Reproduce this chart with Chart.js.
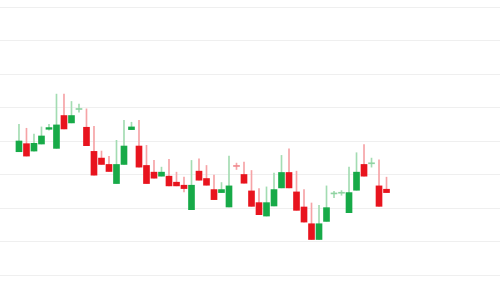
<!DOCTYPE html>
<html>
<head>
<meta charset="utf-8">
<script src="https://cdn.jsdelivr.net/npm/chart.js@4.4.1/dist/chart.umd.min.js"></script>
<style>
  html, body { margin: 0; padding: 0; background: #fff; }
  #wrap { width: 500px; height: 282px; }
</style>
</head>
<body>
<div id="wrap"><canvas id="candles" width="500" height="282"></canvas></div>
<script>
// OHLC values, one entry per session
const sessions = Array.from({ length: 50 }, (_, i) => i + 1);
const opens = [
  136.8, 139.2, 137.0, 139.1, 143.5, 137.8, 147.6, 145.4, 149.4, 144.1,
  136.9, 134.9, 133.0, 127.3, 133.0, 143.4, 138.5, 132.7, 130.7, 129.5,
  129.5, 127.7, 126.8, 119.5, 131.0, 128.8, 125.5, 124.6, 120.3, 132.7,
  130.0, 125.1, 121.6, 117.6, 120.6, 126.0, 130.6, 124.8, 120.3, 115.3,
  110.6, 116.0, 124.2, 124.4, 118.6, 125.3, 133.0, 133.2, 126.6, 125.6
];
const closes = [
  140.0, 135.5, 139.3, 141.5, 144.0, 144.8, 143.6, 147.6, 149.7, 138.6,
  129.8, 133.0, 130.9, 133.0, 138.5, 144.2, 132.2, 127.3, 128.9, 130.7,
  126.6, 126.6, 125.8, 126.8, 128.3, 126.8, 122.5, 125.5, 126.6, 132.4,
  127.4, 120.5, 118.0, 121.6, 125.5, 130.6, 126.0, 119.3, 115.8, 110.6,
  115.3, 120.1, 124.5, 124.7, 124.6, 130.7, 129.5, 133.5, 120.5, 124.6
];
const highs = [
  145.0, 143.8, 142.1, 144.2, 145.0, 154.0, 154.0, 151.8, 151.0, 149.6,
  144.4, 137.0, 135.4, 140.2, 146.2, 145.6, 146.2, 138.7, 134.2, 132.2,
  134.5, 130.7, 129.2, 134.2, 134.7, 132.7, 129.8, 127.6, 135.5, 133.4,
  133.7, 131.2, 125.8, 126.3, 130.4, 135.7, 137.7, 131.0, 125.5, 121.5,
  120.8, 126.6, 125.0, 125.2, 132.2, 136.5, 138.9, 134.9, 134.4, 129.2
];
const lows = [
  136.8, 135.5, 137.0, 139.1, 143.2, 137.8, 143.6, 145.4, 148.6, 138.6,
  129.8, 133.0, 130.9, 127.3, 133.0, 143.4, 132.2, 127.3, 128.9, 129.5,
  126.6, 126.6, 124.8, 119.5, 128.3, 126.8, 122.5, 124.6, 120.3, 131.5,
  127.4, 120.5, 118.0, 117.6, 120.6, 126.0, 126.0, 119.3, 115.8, 110.6,
  110.6, 116.0, 123.1, 123.8, 118.6, 125.3, 129.5, 132.2, 120.5, 124.6
];
const gridTicks = [100, 110, 120, 130, 140, 150, 160, 170, 180];

const upColor = "#17aa48";
const downColor = "#e8141e";
const upWick = "#a3dcb2";
const downWick = "#f6a3a6";

function isUp(i) {
    return closes[i] >= opens[i];
}

// doji candles are drawn as a pale cross, like their wick
function bodyColor(i) {
    const doji = Math.abs(closes[i] - opens[i]) < 0.4;
    if (doji) return isUp(i) ? "#8fd3a2" : "#f08a8e";
    return isUp(i) ? upColor : downColor;
}

const bodies = sessions.map((s, i) => ({ x: s, y: [opens[i], closes[i]] }));
const wicks = sessions.map((s, i) => ({ x: s, y: [lows[i], highs[i]] }));

new Chart(document.getElementById("candles").getContext("2d"), {
    type: "bar",
    data: {
        datasets: [
            {
                label: "Body",
                data: bodies,
                backgroundColor: sessions.map((_, i) => bodyColor(i)),
                barThickness: 6,
                minBarLength: 1,
                borderWidth: 0,
                grouped: false,
            },
            {
                label: "Wick",
                data: wicks,
                backgroundColor: sessions.map((_, i) => isUp(i) ? upWick : downWick),
                barThickness: 1,
                borderWidth: 0,
                grouped: false,
            },
        ],
    },
    options: {
        responsive: false,
        animation: false,
        layout: { padding: { top: 7, bottom: 7, left: 0, right: 0 } },
        scales: {
            x: {
                type: "linear",
                display: false,
                offset: false,
                min: -1.53,
                max: 65.13,
            },
            y: {
                min: gridTicks[0],
                max: gridTicks[gridTicks.length - 1],
                afterBuildTicks: (axis) => {
                    axis.ticks = gridTicks.map((v) => ({ value: v }));
                },
                ticks: { display: false },
                border: { display: false },
                grid: { color: "#efefef", lineWidth: 1, drawTicks: false },
            },
        },
        plugins: {
            legend: { display: false },
            tooltip: { enabled: false },
        },
    },
});
</script>
</body>
</html>
